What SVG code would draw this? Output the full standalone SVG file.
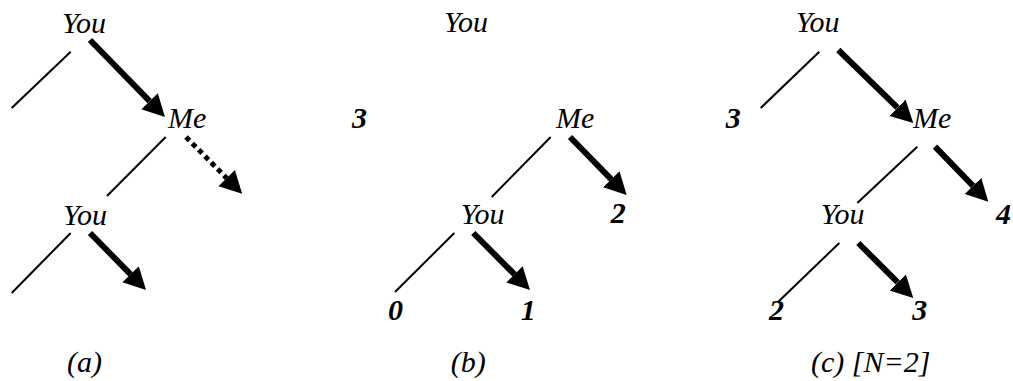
<svg xmlns="http://www.w3.org/2000/svg" width="1013" height="381" viewBox="0 0 1013 381">
<defs>
<marker id="h" markerUnits="userSpaceOnUse" markerWidth="24" markerHeight="24" refX="0" refY="11.5" orient="auto">
<path d="M0,0 L22,11.5 L0,23 Z" fill="#000"/>
</marker>
</defs>
<rect width="1013" height="381" fill="#fff"/>
<g id="connectors" stroke="#000" fill="none">
<g stroke-width="2">
<line x1="70.7" y1="51.7" x2="11.7" y2="108"/>
<line x1="165.7" y1="137" x2="107" y2="196"/>
<line x1="70.7" y1="233" x2="11.7" y2="293"/>
<line x1="550.7" y1="137" x2="491.7" y2="197"/>
<line x1="454.3" y1="233" x2="395" y2="292"/>
<line x1="819.3" y1="51.7" x2="760.7" y2="108"/>
<line x1="917.3" y1="146.7" x2="857.3" y2="203"/>
<line x1="839.3" y1="243" x2="778.3" y2="301.7"/>
</g>
<g stroke-width="6" marker-end="url(#h)">
<line x1="90" y1="40" x2="149.6" y2="101.2"/>
<line x1="90" y1="233" x2="130.6" y2="274.3"/>
<line x1="570" y1="137" x2="611.3" y2="179.3"/>
<line x1="473.3" y1="233" x2="514.5" y2="274.4"/>
<line x1="838.3" y1="50" x2="897.5" y2="107.7"/>
<line x1="935" y1="146.7" x2="973" y2="185.9"/>
<line x1="858.3" y1="243" x2="897.7" y2="282.4"/>
</g>
<line stroke-width="5" stroke-dasharray="5 4" marker-end="url(#h)" x1="186" y1="137" x2="226.7" y2="178.2"/>
</g>
<g id="a-you1"><text font-family="serif" font-style="italic" font-size="30" x="62" y="33">You</text></g>
<g id="a-me"><text font-family="serif" font-style="italic" font-size="30" x="168" y="128">Me</text></g>
<g id="a-you2"><text font-family="serif" font-style="italic" font-size="30" x="63" y="225">You</text></g>
<g id="b-you1"><text font-family="serif" font-style="italic" font-size="30" x="444" y="32">You</text></g>
<g id="b-3"><text font-family="serif" font-style="italic" font-weight="bold" font-size="30" x="352" y="128">3</text></g>
<g id="b-me"><text font-family="serif" font-style="italic" font-size="30" x="556" y="128">Me</text></g>
<g id="b-you2"><text font-family="serif" font-style="italic" font-size="30" x="460.7" y="224">You</text></g>
<g id="b-2"><text font-family="serif" font-style="italic" font-weight="bold" font-size="30" x="610.7" y="223">2</text></g>
<g id="b-0"><text font-family="serif" font-style="italic" font-weight="bold" font-size="30" x="388" y="320">0</text></g>
<g id="b-1"><text font-family="serif" font-style="italic" font-weight="bold" font-size="30" x="520.7" y="320">1</text></g>
<g id="c-you1"><text font-family="serif" font-style="italic" font-size="30" x="795.7" y="32">You</text></g>
<g id="c-3"><text font-family="serif" font-style="italic" font-weight="bold" font-size="30" x="725.7" y="128">3</text></g>
<g id="c-me"><text font-family="serif" font-style="italic" font-size="30" x="913" y="128">Me</text></g>
<g id="c-you2"><text font-family="serif" font-style="italic" font-size="30" x="820.7" y="224">You</text></g>
<g id="c-4"><text font-family="serif" font-style="italic" font-weight="bold" font-size="30" x="996" y="224">4</text></g>
<g id="c-2"><text font-family="serif" font-style="italic" font-weight="bold" font-size="30" x="769" y="320">2</text></g>
<g id="c-3b"><text font-family="serif" font-style="italic" font-weight="bold" font-size="30" x="912.3" y="320">3</text></g>
<g id="captions">
<text font-family="serif" font-style="italic" font-size="30" x="67" y="372">(a)</text>
<text font-family="serif" font-style="italic" font-size="30" x="450.7" y="372">(b)</text>
<text font-family="serif" font-style="italic" font-size="30" x="811" y="372">(c) [N=2]</text>
</g>
</svg>
